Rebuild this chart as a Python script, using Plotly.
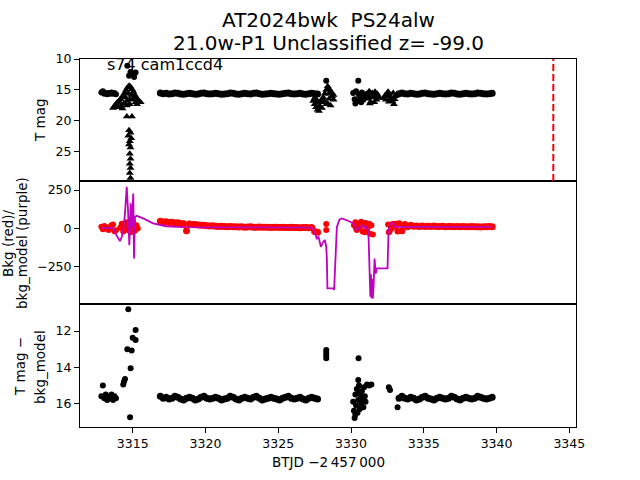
import plotly.graph_objects as go
from plotly.subplots import make_subplots

# ---------------- data ----------------
# shared observation times
t_pre = [3312.85, 3312.95, 3313.05, 3313.15, 3313.25, 3313.35, 3313.45, 3313.55, 3313.65, 3313.75, 3313.85]
t_band1 = [3316.9, 3317.1, 3317.3, 3317.5, 3317.7, 3317.9, 3318.1, 3318.3, 3318.5, 3318.7,
           3318.9, 3319.1, 3319.3, 3319.5, 3319.7, 3319.9, 3320.1, 3320.3, 3320.5, 3320.7,
           3320.9, 3321.1, 3321.3, 3321.5, 3321.7, 3321.9, 3322.1, 3322.3, 3322.5, 3322.7,
           3322.9, 3323.1, 3323.3, 3323.5, 3323.7, 3323.9, 3324.1, 3324.3, 3324.5, 3324.7,
           3324.9, 3325.1, 3325.3, 3325.5, 3325.7, 3325.9, 3326.1, 3326.3, 3326.5, 3326.7,
           3326.9, 3327.1, 3327.3, 3327.5, 3327.7]
t_band2 = [3333.3, 3333.5, 3333.7, 3333.9, 3334.1, 3334.3, 3334.5, 3334.7, 3334.9, 3335.1,
           3335.3, 3335.5, 3335.7, 3335.9, 3336.1, 3336.3, 3336.5, 3336.7, 3336.9, 3337.1,
           3337.3, 3337.5, 3337.7, 3337.9, 3338.1, 3338.3, 3338.5, 3338.7, 3338.9, 3339.1,
           3339.3, 3339.5, 3339.7]

# Panel 1: T mag (detections, circles)
tmag_pre = [15.4, 15.2, 15.6, 15.5, 15.7, 15.5, 15.6, 15.4, 15.6, 15.5, 15.7]
tmag_band1 = [15.5, 15.6, 15.55, 15.65, 15.6, 15.5, 15.55, 15.65, 15.7, 15.6,
              15.55, 15.6, 15.7, 15.65, 15.55, 15.5, 15.6, 15.65, 15.6, 15.55,
              15.6, 15.7, 15.65, 15.6, 15.5, 15.55, 15.65, 15.7, 15.6, 15.55,
              15.6, 15.65, 15.55, 15.5, 15.6, 15.7, 15.65, 15.6, 15.55, 15.6,
              15.65, 15.7, 15.6, 15.55, 15.5, 15.6, 15.65, 15.6, 15.55, 15.65,
              15.7, 15.6, 15.55, 15.6, 15.65]
tmag_band2 = [15.6, 15.5, 15.6, 15.65, 15.55, 15.6, 15.7, 15.65, 15.55, 15.5,
              15.6, 15.65, 15.7, 15.6, 15.55, 15.6, 15.65, 15.6, 15.5, 15.55,
              15.65, 15.7, 15.6, 15.55, 15.6, 15.65, 15.6, 15.5, 15.55, 15.6,
              15.65, 15.6, 15.55]
t_tmag_extra = [3314.63, 3314.85, 3315.0, 3315.2, 3314.75, 3315.1, 3328.3, 3330.5,
                3330.15, 3330.25, 3330.35, 3330.45, 3330.55, 3330.65, 3330.75, 3330.85,
                3330.95, 3330.3, 3330.7]
tmag_extra = [11.1, 12.1, 12.4, 12.2, 12.7, 12.9, 13.5, 13.5,
              15.5, 16.5, 15.2, 16.8, 15.8, 16.2, 15.4, 16.6,
              15.9, 17.2, 17.0]

# Panel 1: T mag upper limits (triangles)
t_tmag_lim = [3313.65, 3313.75, 3313.85, 3313.95, 3314.05, 3314.15, 3314.25, 3314.35, 3314.45, 3314.55,
              3314.65, 3314.75, 3314.85, 3314.95, 3315.05, 3315.15, 3315.25, 3315.35, 3315.45, 3315.55,
              3314.0, 3314.2, 3314.4, 3314.6, 3314.8, 3315.0, 3315.2, 3314.3, 3314.5, 3314.7,
              3314.9, 3315.1, 3314.6, 3314.8, 3315.3,
              3314.6, 3314.95, 3314.75, 3314.85, 3314.7, 3314.9, 3314.8, 3314.75, 3314.85, 3314.8,
              3314.85, 3314.8, 3314.85, 3314.8, 3314.85,
              3327.4, 3327.5, 3327.6, 3327.7, 3327.8, 3327.9, 3328.0, 3328.1, 3328.2, 3328.3,
              3328.4, 3328.5, 3328.6, 3328.7, 3328.8, 3327.6, 3327.8, 3328.0, 3328.4, 3328.6,
              3328.2, 3328.5, 3327.5, 3327.7, 3327.9, 3328.1, 3328.3, 3328.5, 3328.7, 3328.8,
              3331.05, 3331.15, 3331.25, 3331.35, 3331.45, 3331.55, 3331.65, 3331.75, 3331.85, 3331.95,
              3331.3, 3331.6, 3331.2, 3331.5, 3331.8,
              3332.25, 3332.35, 3332.45, 3332.55, 3332.65, 3332.75, 3332.85, 3332.95, 3333.05, 3333.15,
              3332.6, 3332.9, 3332.4, 3332.7, 3333.0]
tmag_lim = [17.9, 17.6, 17.3, 17.0, 16.8, 16.5, 16.2, 15.9, 15.5, 15.0,
            14.6, 14.3, 14.5, 14.9, 15.3, 15.8, 16.2, 16.6, 16.9, 17.0,
            17.8, 17.5, 17.2, 16.8, 16.5, 16.6, 17.0, 18.0, 16.2, 15.6,
            15.8, 16.2, 17.5, 17.3, 17.3,
            19.3, 19.3, 21.5, 21.9, 22.4, 22.8, 23.3, 23.8, 24.3, 25.3,
            26.1, 26.9, 27.6, 28.4, 29.2,
            16.8, 17.3, 17.8, 18.2, 17.6, 17.0, 16.5, 16.2, 15.6, 15.0,
            14.4, 14.8, 15.3, 16.0, 16.6, 16.5, 18.4, 17.9, 17.2, 17.5,
            16.9, 16.4, 16.3, 17.0, 17.7, 17.0, 17.3, 15.6, 15.5, 15.8,
            15.6, 16.4, 15.2, 16.9, 15.5, 16.2, 15.3, 16.6, 15.9, 16.3,
            17.2, 17.0, 16.0, 15.8, 15.6,
            16.3, 15.9, 15.6, 15.3, 15.8, 16.4, 16.8, 17.3, 16.0, 15.7,
            16.9, 15.5, 16.6, 16.1, 16.5]

# Panel 2: background (red) and background model (purple)
bkg_pre = [10, -5, 15, 0, 8, -10, 5, 20, 25, -18, -12]
t_bkg_mid = [3314.15, 3314.25, 3314.35, 3314.45, 3314.55, 3314.65, 3314.75, 3314.85, 3314.95,
             3315.05, 3315.15, 3315.25, 3315.35]
bkg_mid = [5, 30, -20, 15, 40, -10, 25, -25, 10, 35, -15, 20, 0]
bkg_band1 = [46, 42, 44, 38, 40, 35, 36, 32, 30, -15, 28, 25, 26, 22, 20, 21, 18, 16, 17, 14,
             13, 14, 12, 11, 12, 10, 11, 9, 10, 8, 9, 10, 8, 7, 9, 8, 7, 8, 6, 7,
             8, 6, 7, 5, 6, 7, 5, 6, 4, 5, 6, 4, 5, -20, -25]
t_bkg_gap = [3328.3, 3328.3, 3330.2, 3330.3, 3330.4, 3330.5, 3330.6, 3330.7, 3330.8, 3330.9,
             3331.0, 3331.1, 3331.2, 3331.3, 3331.4, 3331.5, 3330.35, 3330.65, 3330.95, 3331.25,
             3332.55, 3332.65, 3332.75, 3332.85, 3332.6, 3332.8, 3333.0, 3333.1, 3333.2]
bkg_gap = [28, -11, 20, 40, -10, 30, 5, 44, -20, 25,
           35, -15, 10, -35, 20, -40, 0, 15, -25, 30,
           25, -20, 10, 28, -25, 0, 30, 10, -20]
bkg_band2 = [30, -15, 25, 10, 20, 14, 16, 12, 15, 13, 14, 12, 15, 13, 12, 14, 11, 13, 12, 10,
             13, 11, 12, 10, 11, 12, 10, 11, 9, 11, 10, 12, 10]

t_bkg_model = [3312.87, 3313.2, 3313.67, 3313.88, 3314.13, 3314.25, 3314.36, 3314.47, 3314.59, 3314.68,
               3314.77, 3314.86, 3314.93, 3315.04, 3315.09, 3315.16, 3315.27, 3315.73, 3316.4, 3317.3,
               3318.5, 3321.0, 3325.0, 3327.3, 3327.42, 3327.65, 3327.77, 3327.93, 3328.1, 3328.2,
               3328.3, 3328.34, 3328.38, 3328.8, 3328.84, 3328.91, 3329.03, 3329.21, 3329.37, 3329.8,
               3330.17, 3330.4, 3330.63, 3330.8, 3330.98, 3331.1, 3331.2, 3331.27, 3331.33, 3331.37,
               3331.42, 3331.47, 3331.5, 3331.56, 3331.62, 3331.7, 3331.78, 3332.51, 3332.58, 3332.7,
               3332.88, 3333.0, 3335.0, 3339.7]
bkg_model = [4, 3, 2, -44, -83, -55, -11, 98, 271, 119,
             -109, 163, 10, 228, -196, 76, 82, 65, 33, 14,
             8, 7, 6, 5, -7, -65, -55, -120, -87, -76,
             -120, -194, -391, -391, -402, -207, 10, 59, 65, 50,
             33, -11, 10, 20, 0, 10, -33, -261, -446, -300,
             -457, -330, -457, -359, -196, -294, -261, -261, -11, 33,
             37, 10, 10, 10]

# Panel 3: T mag - bkg_model
diff_pre = [15.6, 15.0, 15.7, 15.5, 15.8, 15.6, 15.7, 15.5, 15.8, 15.6, 15.7]
t_diff_mid = [3314.35, 3314.4, 3314.47, 3314.63, 3314.7, 3314.82, 3314.86, 3314.93, 3315.0, 3315.2, 3315.2]
diff_mid = [14.95, 14.8, 14.65, 13.0, 10.8, 16.75, 14.05, 13.07, 12.37, 12.5, 11.95]
diff_band1 = [15.6, 15.7, 15.65, 15.75, 15.7, 15.6, 15.65, 15.75, 15.8, 15.7,
              15.65, 15.7, 15.8, 15.75, 15.65, 15.6, 15.7, 15.75, 15.7, 15.65,
              15.7, 15.8, 15.75, 15.7, 15.6, 15.65, 15.75, 15.8, 15.7, 15.65,
              15.7, 15.75, 15.65, 15.6, 15.7, 15.8, 15.75, 15.7, 15.65, 15.7,
              15.75, 15.8, 15.7, 15.65, 15.6, 15.7, 15.75, 15.7, 15.65, 15.75,
              15.8, 15.7, 15.65, 15.7, 15.75]
t_diff_gap = [3328.3, 3328.3, 3328.3, 3328.3, 3330.52, 3330.5, 3330.15, 3330.2, 3330.25, 3330.3,
              3330.35, 3330.4, 3330.45, 3330.5, 3330.55, 3330.6, 3330.65, 3330.7, 3330.75, 3330.8,
              3330.85, 3330.9, 3330.95, 3331.0, 3330.3, 3330.6, 3331.1, 3331.25, 3331.4, 3332.6,
              3332.68, 3333.2]
diff_gap = [13.05, 13.2, 13.35, 13.5, 13.5, 14.7, 15.9, 16.4, 16.8, 15.5,
            16.1, 15.2, 16.5, 15.8, 15.0, 16.3, 15.5, 16.0, 15.3, 15.7,
            16.2, 15.1, 15.6, 15.9, 16.6, 15.4, 14.95, 15.0, 14.95, 15.1,
            15.25, 16.2]
diff_band2 = [15.7, 15.6, 15.7, 15.75, 15.65, 15.7, 15.8, 15.75, 15.65, 15.6,
              15.7, 15.75, 15.8, 15.7, 15.65, 15.7, 15.75, 15.7, 15.6, 15.65,
              15.75, 15.8, 15.7, 15.65, 15.7, 15.75, 15.7, 15.6, 15.65, 15.7,
              15.75, 15.7, 15.65]

t_vline = 3343.9
x_tickvals = [3315, 3320, 3325, 3330, 3335, 3340, 3345]
y1_tickvals = [10, 15, 20, 25]
y2_tickvals = [-250, 0, 250]
y3_tickvals = [12, 14, 16]

title_line1 = "AT2024bwk \u00a0PS24alw"
title_line2 = "21.0w-P1 Unclassified z= -99.0"
field_label = "s74 cam1ccd4"

# ---------------- assemble ----------------
t_bands = t_band1 + t_band2
t_tmag = t_pre + t_tmag_extra
tmag = tmag_pre + tmag_extra
t_bkg = t_pre + t_bkg_mid + t_bkg_gap
bkg = bkg_pre + bkg_mid + bkg_gap
t_diff = t_pre + t_diff_mid + t_diff_gap
tmag_diff = diff_pre + diff_mid + diff_gap

FONT = "DejaVu Sans"
BLACK_DOT = dict(color="black", size=6, symbol="circle", line=dict(width=0))
BLACK_BAND = dict(color="black", size=7, symbol="circle", line=dict(width=0))
RED_DOT = dict(color="#ff0000", size=6, line=dict(width=0))
RED_BAND = dict(color="#ff0000", size=7, line=dict(width=0))

fig = make_subplots(rows=3, cols=1, shared_xaxes=True, vertical_spacing=0)

# panel 1
fig.add_trace(go.Scatter(x=t_bands, y=tmag_band1 + tmag_band2, mode="markers", marker=BLACK_BAND), row=1, col=1)
fig.add_trace(go.Scatter(x=t_tmag, y=tmag, mode="markers", marker=BLACK_DOT), row=1, col=1)
fig.add_trace(go.Scatter(x=t_tmag_lim, y=tmag_lim, mode="markers",
                         marker=dict(color="black", size=7, symbol="triangle-up", line=dict(width=0))),
              row=1, col=1)
# panel 2
fig.add_trace(go.Scatter(x=t_bands, y=bkg_band1 + bkg_band2, mode="markers", marker=RED_BAND), row=2, col=1)
fig.add_trace(go.Scatter(x=t_bkg, y=bkg, mode="markers", marker=RED_DOT), row=2, col=1)
fig.add_trace(go.Scatter(x=t_bkg_model, y=bkg_model, mode="lines",
                         line=dict(color="#bf00bf", width=1.8)),
              row=2, col=1)
# panel 3
fig.add_trace(go.Scatter(x=t_bands, y=diff_band1 + diff_band2, mode="markers", marker=BLACK_BAND), row=3, col=1)
fig.add_trace(go.Scatter(x=t_diff, y=tmag_diff, mode="markers", marker=BLACK_DOT), row=3, col=1)

fig.add_shape(type="line", xref="x", yref="y domain", x0=t_vline, x1=t_vline, y0=0, y1=1,
              line=dict(color="#ff0000", width=2, dash="7px,3px"))

xr = [3311.38, 3345.46]
common_axis = dict(showline=True, mirror=True, linecolor="black", linewidth=1,
                   showgrid=False, zeroline=False, tickcolor="black", ticklen=5, tickwidth=1,
                   tickfont=dict(family=FONT, size=12.5, color="black"))

fig.update_layout(
    width=640, height=480,
    margin=dict(l=80, r=64, t=59, b=53),
    paper_bgcolor="white", plot_bgcolor="white",
    showlegend=False,
    font=dict(family=FONT, color="black"),
)
fig.update_xaxes(**common_axis, range=xr, domain=[0, 1])
fig.update_xaxes(ticks="", showticklabels=False, row=1, col=1)
fig.update_xaxes(ticks="", showticklabels=False, row=2, col=1)
fig.update_xaxes(ticks="outside", showticklabels=True, tickvals=x_tickvals, row=3, col=1)

fig.update_yaxes(**common_axis, ticks="outside")
fig.update_yaxes(range=[29.7, 10], tickvals=y1_tickvals, domain=[0.66848, 1.0], row=1, col=1)
fig.update_yaxes(range=[-493, 309], tickvals=y2_tickvals, domain=[0.33424, 0.66848], row=2, col=1)
fig.update_yaxes(range=[17.29, 10.51], tickvals=y3_tickvals, domain=[0.0, 0.33424], row=3, col=1)


def px_x(px):
    return (px - 80) / 496.0


def px_y(py):
    return (427 - py) / 368.0


ann = []
ann.append(dict(text=title_line1, x=px_x(328), y=px_y(20), font=dict(size=20)))
ann.append(dict(text=title_line2, x=px_x(328), y=px_y(43), font=dict(size=20)))
ann.append(dict(text=field_label, x=px_x(105), y=px_y(64), xanchor="left", font=dict(size=16)))
ann.append(dict(text="T mag", x=px_x(40), y=px_y(120), textangle=-90, font=dict(size=13.5)))
ann.append(dict(text="Bkg (red)/", x=px_x(8), y=px_y(243), textangle=-90, font=dict(size=13.5)))
ann.append(dict(text="bkg_model (purple)", x=px_x(22), y=px_y(243), textangle=-90, font=dict(size=13.5)))
ann.append(dict(text="T mag \u2212", x=px_x(20), y=px_y(367), textangle=-90, font=dict(size=13.5)))
ann.append(dict(text="bkg_model", x=px_x(40), y=px_y(367), textangle=-90, font=dict(size=13.5)))
ann.append(dict(text="BTJD \u22122\u2009457\u2009000", x=px_x(328), y=px_y(462), font=dict(size=13.5)))
for a in ann:
    a.update(xref="paper", yref="paper", showarrow=False)
    a.setdefault("xanchor", "center")
    a.setdefault("yanchor", "middle")
    a["font"].update(family=FONT, color="black")
fig.update_layout(annotations=ann)

fig.write_html("out.html",
               config={"displayModeBar": False},
               post_script="document.body.style.margin='0px';document.body.style.overflow='hidden';")
